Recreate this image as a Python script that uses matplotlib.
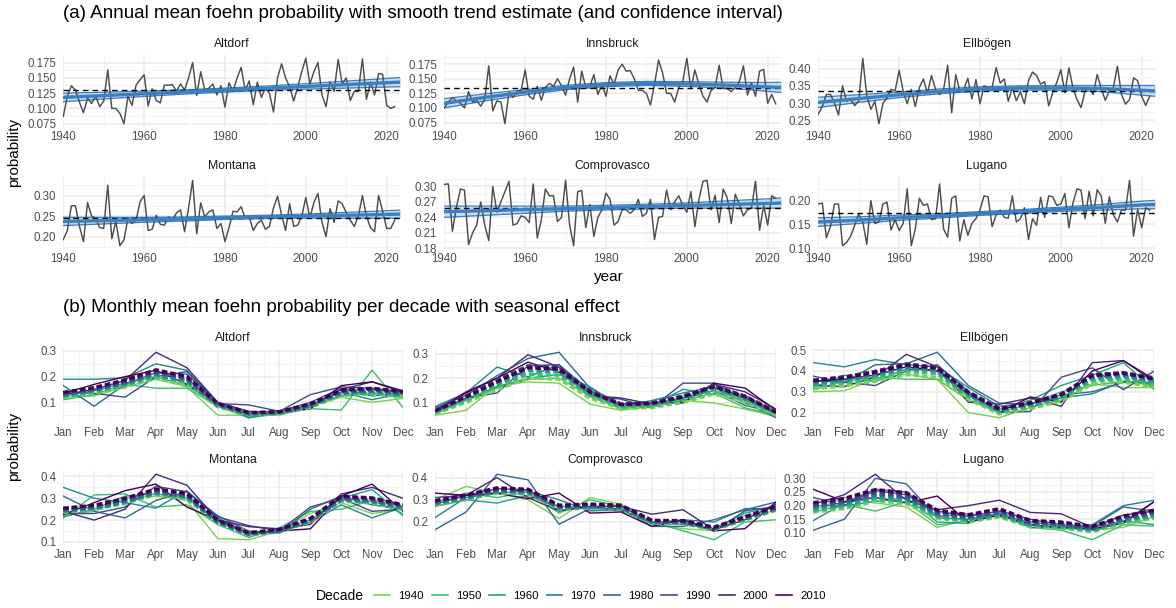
import matplotlib
matplotlib.use('Agg')
import matplotlib.pyplot as plt
from matplotlib.ticker import MultipleLocator, FormatStrFormatter
from matplotlib.lines import Line2D
import numpy as np

plt.rcParams['font.family'] = ['Liberation Sans', 'DejaVu Sans']

# ---------------- data ----------------
years = np.arange(1940, 2023)
stations = ['Altdorf', 'Innsbruck', 'Ellbögen', 'Montana', 'Comprovasco', 'Lugano']

altdorf_annual = [0.087, 0.120, 0.137, 0.130, 0.110, 0.093, 0.117, 0.108, 0.120, 0.103,
                  0.112, 0.163, 0.100, 0.100, 0.092, 0.075, 0.120, 0.105, 0.138, 0.147,
                  0.155, 0.104, 0.132, 0.113, 0.109, 0.138, 0.138, 0.139, 0.128, 0.140,
                  0.130, 0.150, 0.175, 0.121, 0.160, 0.130, 0.133, 0.140, 0.122, 0.137,
                  0.102, 0.142, 0.128, 0.150, 0.167, 0.130, 0.145, 0.106, 0.143, 0.118,
                  0.133, 0.125, 0.094, 0.150, 0.173, 0.150, 0.135, 0.112, 0.135, 0.160,
                  0.182, 0.140, 0.160, 0.175, 0.122, 0.103, 0.143, 0.128, 0.180, 0.140,
                  0.150, 0.113, 0.128, 0.128, 0.181, 0.115, 0.143, 0.122, 0.157, 0.156,
                  0.105, 0.100, 0.103]
innsbruck_annual = [0.100, 0.110, 0.118, 0.112, 0.108, 0.100, 0.128, 0.110, 0.113, 0.103,
                    0.115, 0.172, 0.095, 0.112, 0.110, 0.073, 0.127, 0.118, 0.128, 0.130,
                    0.165, 0.120, 0.115, 0.137, 0.113, 0.135, 0.142, 0.137, 0.150, 0.138,
                    0.122, 0.150, 0.170, 0.110, 0.163, 0.135, 0.137, 0.157, 0.123, 0.140,
                    0.120, 0.155, 0.140, 0.165, 0.175, 0.163, 0.164, 0.150, 0.130, 0.130,
                    0.125, 0.105, 0.140, 0.182, 0.160, 0.125, 0.125, 0.110, 0.135, 0.145,
                    0.185, 0.133, 0.165, 0.140, 0.120, 0.110, 0.130, 0.135, 0.173, 0.133,
                    0.133, 0.128, 0.135, 0.145, 0.172, 0.122, 0.143, 0.120, 0.163, 0.166,
                    0.108, 0.123, 0.107]
ellboegen_annual = [0.268, 0.290, 0.325, 0.325, 0.300, 0.265, 0.350, 0.305, 0.310, 0.293,
                    0.305, 0.430, 0.320, 0.282, 0.305, 0.240, 0.300, 0.315, 0.340, 0.335,
                    0.395, 0.335, 0.298, 0.340, 0.290, 0.345, 0.370, 0.328, 0.380, 0.340,
                    0.325, 0.340, 0.410, 0.272, 0.383, 0.335, 0.340, 0.372, 0.312, 0.368,
                    0.298, 0.350, 0.345, 0.345, 0.403, 0.358, 0.370, 0.305, 0.345, 0.307,
                    0.333, 0.298, 0.365, 0.390, 0.380, 0.355, 0.362, 0.292, 0.330, 0.360,
                    0.397, 0.330, 0.402, 0.345, 0.310, 0.287, 0.335, 0.345, 0.325, 0.383,
                    0.342, 0.308, 0.335, 0.345, 0.407, 0.325, 0.297, 0.310, 0.373, 0.365,
                    0.320, 0.293, 0.320]
montana_annual = [0.193, 0.215, 0.275, 0.275, 0.225, 0.188, 0.283, 0.250, 0.245, 0.222,
                  0.220, 0.325, 0.195, 0.237, 0.178, 0.192, 0.245, 0.232, 0.240, 0.285,
                  0.300, 0.215, 0.218, 0.252, 0.230, 0.228, 0.248, 0.240, 0.258, 0.265,
                  0.212, 0.270, 0.337, 0.207, 0.282, 0.248, 0.260, 0.265, 0.220, 0.232,
                  0.188, 0.222, 0.262, 0.260, 0.273, 0.245, 0.248, 0.215, 0.232, 0.240,
                  0.218, 0.225, 0.270, 0.298, 0.253, 0.215, 0.280, 0.225, 0.228, 0.250,
                  0.295, 0.245, 0.283, 0.305, 0.235, 0.200, 0.268, 0.235, 0.287, 0.280,
                  0.258, 0.240, 0.225, 0.250, 0.300, 0.250, 0.222, 0.212, 0.300, 0.262,
                  0.220, 0.220, 0.240]
comprovasco_annual = [0.304, 0.305, 0.213, 0.260, 0.295, 0.293, 0.187, 0.210, 0.225, 0.270,
                      0.225, 0.195, 0.300, 0.250, 0.270, 0.290, 0.310, 0.225, 0.228, 0.243,
                      0.240, 0.230, 0.305, 0.200, 0.235, 0.295, 0.282, 0.282, 0.232, 0.240,
                      0.312, 0.225, 0.185, 0.290, 0.292, 0.220, 0.265, 0.203, 0.240, 0.255,
                      0.287, 0.275, 0.225, 0.232, 0.255, 0.255, 0.248, 0.255, 0.275, 0.242,
                      0.248, 0.275, 0.197, 0.240, 0.242, 0.293, 0.255, 0.270, 0.282, 0.263,
                      0.250, 0.290, 0.222, 0.275, 0.310, 0.312, 0.255, 0.283, 0.230, 0.295,
                      0.278, 0.228, 0.285, 0.265, 0.243, 0.255, 0.258, 0.310, 0.215, 0.263,
                      0.225, 0.282, 0.277]
lugano_annual = [0.193, 0.195, 0.122, 0.145, 0.193, 0.193, 0.105, 0.112, 0.125, 0.148,
                 0.172, 0.155, 0.108, 0.200, 0.152, 0.155, 0.193, 0.197, 0.138, 0.160,
                 0.137, 0.152, 0.225, 0.105, 0.140, 0.205, 0.190, 0.193, 0.160, 0.162,
                 0.235, 0.140, 0.123, 0.205, 0.210, 0.115, 0.160, 0.127, 0.152, 0.162,
                 0.180, 0.210, 0.208, 0.145, 0.170, 0.180, 0.165, 0.163, 0.210, 0.155,
                 0.162, 0.185, 0.118, 0.162, 0.148, 0.207, 0.165, 0.210, 0.208, 0.190,
                 0.193, 0.215, 0.143, 0.195, 0.225, 0.222, 0.162, 0.220, 0.168, 0.223,
                 0.210, 0.152, 0.208, 0.170, 0.155, 0.180, 0.180, 0.243, 0.125, 0.182,
                 0.143, 0.185, 0.180]

annual_means = [0.130, 0.134, 0.335, 0.245, 0.258, 0.173]

trend_years = [1940, 1950, 1960, 1970, 1980, 1990, 2000, 2010, 2020, 2024]
altdorf_trend = [0.118, 0.121, 0.124, 0.127, 0.130, 0.133, 0.136, 0.139, 0.142, 0.1432]
altdorf_lo = [0.111, 0.1155, 0.1197, 0.1235, 0.1268, 0.1295, 0.1315, 0.1333, 0.135, 0.1356]
altdorf_hi = [0.125, 0.1265, 0.1283, 0.1305, 0.1332, 0.1365, 0.1405, 0.1447, 0.149, 0.1508]
innsbruck_trend = [0.108, 0.118, 0.127, 0.135, 0.140, 0.142, 0.141, 0.139, 0.136, 0.135]
innsbruck_lo = [0.100, 0.112, 0.1225, 0.1312, 0.1365, 0.1385, 0.137, 0.134, 0.1285, 0.126]
innsbruck_hi = [0.116, 0.124, 0.1315, 0.1388, 0.1435, 0.1455, 0.145, 0.144, 0.1435, 0.144]
ellboegen_trend = [0.302, 0.313, 0.324, 0.334, 0.341, 0.344, 0.344, 0.342, 0.337, 0.335]
ellboegen_lo = [0.287, 0.302, 0.316, 0.327, 0.335, 0.338, 0.337, 0.333, 0.323, 0.319]
ellboegen_hi = [0.317, 0.324, 0.332, 0.341, 0.347, 0.350, 0.351, 0.351, 0.351, 0.351]
montana_trend = [0.237, 0.239, 0.241, 0.243, 0.246, 0.248, 0.250, 0.252, 0.254, 0.255]
montana_lo = [0.227, 0.231, 0.235, 0.238, 0.242, 0.244, 0.245, 0.245, 0.245, 0.245]
montana_hi = [0.247, 0.247, 0.247, 0.248, 0.250, 0.252, 0.255, 0.259, 0.263, 0.265]
comprovasco_trend = [0.251, 0.253, 0.255, 0.257, 0.259, 0.261, 0.263, 0.265, 0.267, 0.268]
comprovasco_lo = [0.240, 0.244, 0.248, 0.252, 0.2545, 0.2565, 0.258, 0.258, 0.258, 0.258]
comprovasco_hi = [0.262, 0.262, 0.262, 0.262, 0.2635, 0.2655, 0.268, 0.272, 0.276, 0.278]
lugano_trend = [0.155, 0.159, 0.164, 0.168, 0.173, 0.177, 0.182, 0.186, 0.191, 0.192]
lugano_lo = [0.146, 0.152, 0.1585, 0.1635, 0.169, 0.173, 0.1775, 0.180, 0.183, 0.183]
lugano_hi = [0.164, 0.166, 0.1695, 0.1725, 0.177, 0.181, 0.1865, 0.192, 0.199, 0.201]

months = np.arange(1, 13)
month_labels = ['Jan', 'Feb', 'Mar', 'Apr', 'May', 'Jun', 'Jul', 'Aug', 'Sep', 'Oct', 'Nov', 'Dec']
decades = ['1940', '1950', '1960', '1970', '1980', '1990', '2000', '2010']

altdorf_monthly = [
    [0.120, 0.125, 0.160, 0.190, 0.160, 0.050, 0.050, 0.050, 0.085, 0.120, 0.100, 0.115],
    [0.110, 0.130, 0.170, 0.155, 0.155, 0.085, 0.040, 0.055, 0.075, 0.070, 0.225, 0.080],
    [0.125, 0.145, 0.175, 0.200, 0.165, 0.090, 0.045, 0.060, 0.090, 0.125, 0.135, 0.120],
    [0.190, 0.190, 0.195, 0.250, 0.225, 0.100, 0.040, 0.060, 0.090, 0.140, 0.110, 0.135],
    [0.165, 0.085, 0.170, 0.215, 0.210, 0.095, 0.055, 0.065, 0.100, 0.155, 0.125, 0.135],
    [0.140, 0.135, 0.120, 0.200, 0.220, 0.095, 0.090, 0.065, 0.130, 0.160, 0.155, 0.140],
    [0.130, 0.150, 0.185, 0.295, 0.235, 0.100, 0.065, 0.060, 0.080, 0.150, 0.180, 0.145],
    [0.135, 0.170, 0.200, 0.225, 0.170, 0.095, 0.055, 0.060, 0.075, 0.165, 0.180, 0.140]]
altdorf_fit = [
    [0.118, 0.135, 0.159, 0.193, 0.171, 0.082, 0.051, 0.055, 0.080, 0.126, 0.132, 0.121],
    [0.122, 0.139, 0.165, 0.199, 0.177, 0.085, 0.053, 0.056, 0.083, 0.130, 0.136, 0.125],
    [0.126, 0.144, 0.170, 0.206, 0.182, 0.087, 0.054, 0.058, 0.085, 0.134, 0.141, 0.129],
    [0.129, 0.147, 0.173, 0.210, 0.186, 0.089, 0.055, 0.059, 0.087, 0.137, 0.144, 0.132],
    [0.131, 0.149, 0.177, 0.214, 0.190, 0.091, 0.057, 0.061, 0.089, 0.139, 0.146, 0.134],
    [0.134, 0.152, 0.180, 0.218, 0.194, 0.093, 0.058, 0.062, 0.091, 0.142, 0.149, 0.137],
    [0.137, 0.155, 0.184, 0.223, 0.197, 0.095, 0.059, 0.063, 0.092, 0.145, 0.152, 0.140],
    [0.139, 0.158, 0.187, 0.227, 0.201, 0.096, 0.060, 0.064, 0.094, 0.148, 0.155, 0.142]]

innsbruck_monthly = [
    [0.050, 0.070, 0.170, 0.185, 0.180, 0.095, 0.070, 0.085, 0.110, 0.100, 0.075, 0.045],
    [0.055, 0.110, 0.160, 0.195, 0.200, 0.130, 0.075, 0.100, 0.110, 0.140, 0.080, 0.050],
    [0.060, 0.115, 0.165, 0.200, 0.215, 0.165, 0.085, 0.090, 0.155, 0.135, 0.130, 0.060],
    [0.085, 0.140, 0.245, 0.205, 0.255, 0.150, 0.085, 0.110, 0.140, 0.165, 0.100, 0.040],
    [0.080, 0.130, 0.210, 0.280, 0.305, 0.160, 0.090, 0.085, 0.120, 0.150, 0.090, 0.060],
    [0.065, 0.120, 0.140, 0.250, 0.255, 0.130, 0.115, 0.080, 0.180, 0.180, 0.110, 0.055],
    [0.070, 0.145, 0.200, 0.295, 0.245, 0.130, 0.120, 0.095, 0.105, 0.175, 0.145, 0.075],
    [0.065, 0.140, 0.200, 0.265, 0.225, 0.135, 0.095, 0.100, 0.100, 0.180, 0.160, 0.070]]
innsbruck_fit = [
    [0.055, 0.102, 0.153, 0.200, 0.196, 0.119, 0.077, 0.081, 0.102, 0.136, 0.102, 0.051],
    [0.060, 0.110, 0.166, 0.216, 0.212, 0.129, 0.083, 0.087, 0.110, 0.147, 0.110, 0.055],
    [0.064, 0.118, 0.176, 0.230, 0.225, 0.137, 0.088, 0.093, 0.118, 0.157, 0.118, 0.059],
    [0.067, 0.124, 0.185, 0.242, 0.237, 0.144, 0.093, 0.098, 0.124, 0.165, 0.124, 0.062],
    [0.069, 0.127, 0.191, 0.249, 0.244, 0.148, 0.095, 0.101, 0.127, 0.170, 0.127, 0.064],
    [0.069, 0.128, 0.192, 0.250, 0.245, 0.149, 0.096, 0.101, 0.128, 0.170, 0.128, 0.064],
    [0.068, 0.126, 0.189, 0.247, 0.242, 0.147, 0.095, 0.100, 0.126, 0.168, 0.126, 0.063],
    [0.067, 0.124, 0.185, 0.242, 0.237, 0.144, 0.093, 0.098, 0.124, 0.165, 0.124, 0.062]]

ellboegen_monthly = [
    [0.300, 0.305, 0.360, 0.385, 0.360, 0.200, 0.175, 0.225, 0.260, 0.340, 0.320, 0.320],
    [0.310, 0.350, 0.370, 0.360, 0.360, 0.260, 0.200, 0.240, 0.300, 0.330, 0.350, 0.330],
    [0.320, 0.380, 0.350, 0.410, 0.400, 0.280, 0.215, 0.260, 0.330, 0.380, 0.440, 0.310],
    [0.440, 0.420, 0.455, 0.430, 0.420, 0.320, 0.230, 0.245, 0.270, 0.290, 0.350, 0.340],
    [0.355, 0.345, 0.430, 0.435, 0.490, 0.330, 0.245, 0.240, 0.285, 0.300, 0.345, 0.345],
    [0.375, 0.345, 0.330, 0.400, 0.430, 0.300, 0.200, 0.205, 0.370, 0.415, 0.310, 0.400],
    [0.330, 0.325, 0.370, 0.480, 0.420, 0.250, 0.240, 0.270, 0.230, 0.440, 0.450, 0.360],
    [0.350, 0.360, 0.380, 0.420, 0.400, 0.290, 0.200, 0.275, 0.250, 0.400, 0.450, 0.350]]
ellboegen_fit = [
    [0.314, 0.328, 0.350, 0.382, 0.369, 0.264, 0.193, 0.218, 0.255, 0.337, 0.346, 0.323],
    [0.328, 0.342, 0.366, 0.399, 0.385, 0.276, 0.201, 0.228, 0.266, 0.352, 0.361, 0.337],
    [0.338, 0.353, 0.377, 0.412, 0.397, 0.284, 0.208, 0.235, 0.274, 0.363, 0.372, 0.348],
    [0.345, 0.360, 0.385, 0.420, 0.405, 0.290, 0.212, 0.240, 0.280, 0.370, 0.380, 0.355],
    [0.352, 0.367, 0.393, 0.428, 0.413, 0.296, 0.216, 0.245, 0.286, 0.377, 0.388, 0.362],
    [0.355, 0.371, 0.397, 0.433, 0.417, 0.299, 0.218, 0.247, 0.288, 0.381, 0.391, 0.366],
    [0.356, 0.372, 0.398, 0.434, 0.418, 0.300, 0.219, 0.248, 0.289, 0.382, 0.392, 0.367],
    [0.352, 0.367, 0.393, 0.428, 0.413, 0.296, 0.216, 0.245, 0.286, 0.377, 0.388, 0.362]]

montana_monthly = [
    [0.220, 0.240, 0.300, 0.310, 0.290, 0.115, 0.110, 0.150, 0.230, 0.280, 0.230, 0.250],
    [0.210, 0.315, 0.320, 0.260, 0.270, 0.180, 0.120, 0.165, 0.240, 0.250, 0.290, 0.230],
    [0.215, 0.250, 0.310, 0.320, 0.300, 0.200, 0.130, 0.160, 0.200, 0.300, 0.340, 0.220],
    [0.350, 0.300, 0.280, 0.255, 0.335, 0.210, 0.140, 0.145, 0.190, 0.270, 0.210, 0.260],
    [0.310, 0.240, 0.210, 0.290, 0.330, 0.220, 0.150, 0.140, 0.250, 0.310, 0.270, 0.250],
    [0.230, 0.230, 0.260, 0.355, 0.330, 0.215, 0.175, 0.150, 0.260, 0.300, 0.240, 0.250],
    [0.240, 0.200, 0.250, 0.410, 0.360, 0.200, 0.170, 0.160, 0.180, 0.320, 0.350, 0.300],
    [0.225, 0.280, 0.335, 0.365, 0.260, 0.200, 0.140, 0.150, 0.160, 0.310, 0.365, 0.240]]
montana_fit = [
    [0.235, 0.248, 0.276, 0.317, 0.298, 0.184, 0.132, 0.146, 0.192, 0.286, 0.278, 0.250],
    [0.238, 0.250, 0.279, 0.320, 0.301, 0.186, 0.133, 0.147, 0.194, 0.289, 0.281, 0.252],
    [0.240, 0.253, 0.282, 0.323, 0.304, 0.188, 0.134, 0.149, 0.196, 0.292, 0.284, 0.255],
    [0.243, 0.255, 0.285, 0.327, 0.307, 0.190, 0.136, 0.150, 0.198, 0.295, 0.287, 0.257],
    [0.245, 0.258, 0.288, 0.330, 0.310, 0.192, 0.137, 0.152, 0.200, 0.298, 0.290, 0.260],
    [0.250, 0.263, 0.294, 0.337, 0.316, 0.196, 0.140, 0.155, 0.204, 0.304, 0.296, 0.265],
    [0.252, 0.266, 0.297, 0.340, 0.319, 0.198, 0.141, 0.157, 0.206, 0.307, 0.299, 0.268],
    [0.255, 0.268, 0.300, 0.343, 0.322, 0.200, 0.142, 0.158, 0.208, 0.310, 0.302, 0.270]]

comprovasco_monthly = [
    [0.300, 0.360, 0.330, 0.300, 0.215, 0.310, 0.280, 0.190, 0.170, 0.160, 0.230, 0.250],
    [0.290, 0.330, 0.310, 0.335, 0.240, 0.300, 0.270, 0.200, 0.160, 0.120, 0.200, 0.210],
    [0.270, 0.300, 0.285, 0.320, 0.270, 0.265, 0.275, 0.190, 0.190, 0.170, 0.240, 0.270],
    [0.220, 0.310, 0.330, 0.340, 0.300, 0.250, 0.255, 0.195, 0.210, 0.200, 0.260, 0.260],
    [0.165, 0.245, 0.415, 0.390, 0.190, 0.260, 0.260, 0.180, 0.180, 0.210, 0.255, 0.290],
    [0.310, 0.320, 0.350, 0.345, 0.250, 0.270, 0.250, 0.200, 0.200, 0.160, 0.250, 0.270],
    [0.280, 0.320, 0.400, 0.310, 0.250, 0.270, 0.270, 0.235, 0.255, 0.165, 0.210, 0.280],
    [0.330, 0.320, 0.330, 0.305, 0.330, 0.240, 0.245, 0.180, 0.210, 0.160, 0.170, 0.290]]
comprovasco_fit = [
    [0.276, 0.301, 0.330, 0.325, 0.257, 0.262, 0.257, 0.194, 0.192, 0.165, 0.209, 0.252],
    [0.279, 0.304, 0.333, 0.328, 0.260, 0.265, 0.260, 0.196, 0.194, 0.167, 0.211, 0.255],
    [0.282, 0.307, 0.337, 0.332, 0.262, 0.267, 0.262, 0.198, 0.196, 0.168, 0.213, 0.257],
    [0.285, 0.310, 0.340, 0.335, 0.265, 0.270, 0.265, 0.200, 0.198, 0.170, 0.215, 0.260],
    [0.288, 0.313, 0.343, 0.338, 0.268, 0.273, 0.268, 0.202, 0.200, 0.172, 0.217, 0.263],
    [0.291, 0.316, 0.347, 0.342, 0.270, 0.275, 0.270, 0.204, 0.202, 0.173, 0.219, 0.265],
    [0.294, 0.319, 0.350, 0.345, 0.273, 0.278, 0.273, 0.206, 0.204, 0.175, 0.221, 0.268],
    [0.296, 0.322, 0.354, 0.348, 0.276, 0.281, 0.276, 0.208, 0.206, 0.177, 0.224, 0.270]]

lugano_monthly = [
    [0.180, 0.230, 0.210, 0.195, 0.120, 0.150, 0.165, 0.130, 0.120, 0.110, 0.120, 0.160],
    [0.175, 0.205, 0.180, 0.215, 0.130, 0.140, 0.170, 0.120, 0.110, 0.075, 0.130, 0.125],
    [0.200, 0.200, 0.215, 0.230, 0.140, 0.135, 0.175, 0.130, 0.115, 0.120, 0.145, 0.130],
    [0.145, 0.210, 0.260, 0.250, 0.160, 0.170, 0.160, 0.140, 0.125, 0.130, 0.200, 0.220],
    [0.110, 0.150, 0.300, 0.280, 0.155, 0.150, 0.170, 0.120, 0.120, 0.125, 0.195, 0.180],
    [0.230, 0.200, 0.255, 0.240, 0.180, 0.160, 0.180, 0.150, 0.130, 0.110, 0.140, 0.215],
    [0.205, 0.240, 0.315, 0.220, 0.185, 0.200, 0.220, 0.175, 0.170, 0.120, 0.165, 0.180],
    [0.260, 0.215, 0.230, 0.210, 0.235, 0.140, 0.165, 0.130, 0.120, 0.115, 0.135, 0.215]]
lugano_fit = [
    [0.176, 0.189, 0.216, 0.207, 0.153, 0.140, 0.158, 0.122, 0.117, 0.104, 0.135, 0.153],
    [0.181, 0.195, 0.223, 0.214, 0.158, 0.144, 0.163, 0.126, 0.121, 0.107, 0.140, 0.158],
    [0.187, 0.202, 0.230, 0.221, 0.163, 0.149, 0.168, 0.130, 0.125, 0.110, 0.144, 0.163],
    [0.193, 0.208, 0.238, 0.228, 0.168, 0.153, 0.173, 0.134, 0.129, 0.114, 0.149, 0.168],
    [0.197, 0.212, 0.242, 0.232, 0.172, 0.157, 0.177, 0.136, 0.131, 0.116, 0.152, 0.172],
    [0.201, 0.216, 0.247, 0.237, 0.175, 0.160, 0.180, 0.139, 0.134, 0.118, 0.155, 0.175],
    [0.207, 0.223, 0.254, 0.244, 0.180, 0.164, 0.186, 0.143, 0.138, 0.122, 0.159, 0.180],
    [0.211, 0.227, 0.259, 0.248, 0.184, 0.167, 0.189, 0.146, 0.140, 0.124, 0.162, 0.184]]

annual = [altdorf_annual, innsbruck_annual, ellboegen_annual,
          montana_annual, comprovasco_annual, lugano_annual]
trends = [(altdorf_trend, altdorf_lo, altdorf_hi), (innsbruck_trend, innsbruck_lo, innsbruck_hi),
          (ellboegen_trend, ellboegen_lo, ellboegen_hi), (montana_trend, montana_lo, montana_hi),
          (comprovasco_trend, comprovasco_lo, comprovasco_hi), (lugano_trend, lugano_lo, lugano_hi)]
monthly = [altdorf_monthly, innsbruck_monthly, ellboegen_monthly,
           montana_monthly, comprovasco_monthly, lugano_monthly]
fitted = [altdorf_fit, innsbruck_fit, ellboegen_fit, montana_fit, comprovasco_fit, lugano_fit]

# ---------------- layout / style ----------------
W, H = 1176, 608
fig = plt.figure(figsize=(W / 100, H / 100), dpi=100)

A_cols = [(63.3, 400.0), (444.3, 781.0), (818.3, 1155.0)]
A_rows = [(55.0, 127.0), (177.0, 249.0)]
B_cols = [(63.3, 403.0), (435.0, 776.0), (813.3, 1154.3)]
B_rows = [(349.0, 421.0), (471.0, 543.0)]

a_ticks = [(0.025, '%.3f'), (0.025, '%.3f'), (0.05, '%.2f'),
           (0.05, '%.2f'), (0.03, '%.2f'), (0.05, '%.2f')]
b_ticks = [(0.1, '%.1f'), (0.1, '%.1f'), (0.1, '%.1f'),
           (0.1, '%.1f'), (0.1, '%.1f'), (0.05, '%.2f')]

grey_line = '#4D4D4D'
trend_col = '#3A7FC1'
band_col = '#BDD5EC'
dec_colors = plt.cm.viridis(np.linspace(0.8, 0.0, 8))
TICK_FS = 8.3
STRIP_FS = 8.8


def make_ax(col, row):
    x0, x1 = col
    y0, y1 = row
    ax = fig.add_axes([x0 / W, 1 - y1 / H, (x1 - x0) / W, (y1 - y0) / H])
    for s in ax.spines.values():
        s.set_visible(False)
    ax.set_axisbelow(True)
    ax.grid(which='major', color='#EBEBEB', lw=1.1)
    ax.grid(which='minor', color='#F3F3F3', lw=0.6)
    ax.tick_params(which='both', length=0, labelsize=TICK_FS, labelcolor='#4D4D4D')
    ax.tick_params(axis='x', pad=3)
    ax.tick_params(axis='y', pad=5)
    return ax


def strip(col, row, name):
    x0, x1 = col
    fig.text((x0 + x1) / 2 / W, 1 - (row[0] - 11) / H, name, fontsize=STRIP_FS,
             color='#1A1A1A', ha='center', va='center')


# ---------------- panel (a) ----------------
for i, name in enumerate(stations):
    col = A_cols[i % 3]
    row = A_rows[i // 3]
    ax = make_ax(col, row)
    tr, lo, hi = trends[i]
    ax.fill_between(trend_years, lo, hi, color=band_col, alpha=0.85, lw=0, zorder=2)
    ax.plot(trend_years, lo, color=trend_col, lw=0.9, zorder=3)
    ax.plot(trend_years, hi, color=trend_col, lw=0.9, zorder=3)
    ax.plot(years, annual[i], color=grey_line, lw=1.05, zorder=4)
    ax.axhline(annual_means[i], color='black', lw=1.0, ls=(0, (4, 3)), zorder=5)
    ax.plot(trend_years, tr, color=trend_col, lw=2.4, zorder=6)
    ax.set_xlim(1940, 2023.3)
    ax.margins(y=0.05)
    ax.xaxis.set_major_locator(MultipleLocator(20))
    ax.xaxis.set_minor_locator(MultipleLocator(10))
    step, fmt = a_ticks[i]
    ax.yaxis.set_major_locator(MultipleLocator(step))
    ax.yaxis.set_minor_locator(MultipleLocator(step / 2))
    ax.yaxis.set_major_formatter(FormatStrFormatter(fmt))
    strip(col, row, name)

# ---------------- panel (b) ----------------
for i, name in enumerate(stations):
    col = B_cols[i % 3]
    row = B_rows[i // 3]
    ax = make_ax(col, row)
    for d in range(8):
        ax.plot(months, monthly[i][d], color=dec_colors[d], lw=1.0, zorder=3)
    for d in range(8):
        ax.plot(months, fitted[i][d], color=dec_colors[d], lw=2.3,
                ls=(0, (1.7, 0.95)), zorder=4)
    ax.set_xlim(1, 12)
    ax.margins(y=0.05)
    ax.set_xticks(months)
    ax.set_xticklabels(month_labels)
    ax.xaxis.set_minor_locator(MultipleLocator(0.5))
    step, fmt = b_ticks[i]
    ax.yaxis.set_major_locator(MultipleLocator(step))
    ax.yaxis.set_minor_locator(MultipleLocator(step / 2))
    ax.yaxis.set_major_formatter(FormatStrFormatter(fmt))
    ax.tick_params(axis='x', pad=4)
    strip(col, row, name)

# ---------------- titles / labels ----------------
fig.text(63 / W, 1 - 14 / H, '(a) Annual mean foehn probability with smooth trend estimate (and confidence interval)',
         fontsize=13.5, ha='left', va='center')
fig.text(63 / W, 1 - 308 / H, '(b) Monthly mean foehn probability per decade with seasonal effect',
         fontsize=13.5, ha='left', va='center')
fig.text(14 / W, 1 - 152 / H, 'probability', fontsize=11, rotation=90, ha='center', va='center')
fig.text(14 / W, 1 - 446 / H, 'probability', fontsize=11, rotation=90, ha='center', va='center')
fig.text(609 / W, 1 - 277 / H, 'year', fontsize=11, ha='center', va='center')

# ---------------- legend ----------------
handles = [Line2D([], [], color=dec_colors[d], lw=1.2) for d in range(8)]
fig.text(316 / W, 1 - 596 / H, 'Decade', fontsize=10, ha='left', va='center')
fig.legend(handles, decades, ncol=8, loc='center', bbox_to_anchor=(600 / W, 1 - 596 / H),
           frameon=False, fontsize=8.2, handlelength=1.4, handletextpad=0.7,
           columnspacing=0.7, borderpad=0, borderaxespad=0)

fig.savefig('out.png', dpi=100)
